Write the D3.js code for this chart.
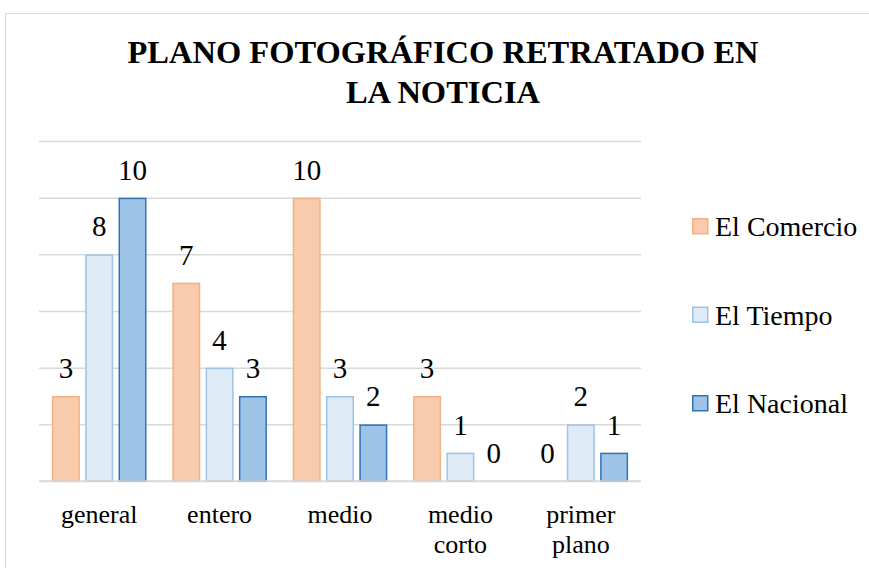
<!DOCTYPE html>
<html><head><meta charset="utf-8">
<script src="https://cdn.jsdelivr.net/npm/d3@7"></script>
<style>html,body{margin:0;padding:0;background:#fff;}svg{display:block;}</style>
</head><body>
<svg id="chart" width="869" height="568"></svg>
<script>
const categories = ["general", "entero", "medio", "medio corto", "primer plano"];
const seriesNames = ["El Comercio", "El Tiempo", "El Nacional"];
const elComercio = [3, 7, 10, 3, 0];
const elTiempo = [8, 4, 3, 1, 2];
const elNacional = [10, 3, 2, 0, 1];
const yTicks = [0, 2, 4, 6, 8, 10, 12];
const fills = ["#f8cbad", "#deebf7", "#9dc3e6"];
const strokes = ["#f4b183", "#9dc3e6", "#2e75b6"];
const titleLines = ["PLANO FOTOGRÁFICO RETRATADO EN", "LA NOTICIA"];

const seriesValues = [elComercio, elTiempo, elNacional];
const FONT = '"Liberation Serif", "Times New Roman", serif';

const svg = d3.select("#chart");

svg.append("rect").attr("x", 5.5).attr("y", 13.5).attr("width", 900).attr("height", 600)
  .attr("fill", "#fff").attr("stroke", "#d9d9d9").attr("stroke-width", 1);

const plot = {left: 39, right: 641, top: 141, bottom: 481};
const y = d3.scaleLinear().domain([0, 12]).range([plot.bottom, plot.top]);
const x0 = d3.scaleBand().domain(categories).range([plot.left, plot.right]).paddingInner(0.214).paddingOuter(0.107);
const x1 = d3.scaleBand().domain(seriesNames).range([0, x0.bandwidth()]).paddingInner(0.16);

const grid = d3.axisLeft(y).tickValues(yTicks).tickSize(-(plot.right - plot.left)).tickFormat("");
const g = svg.append("g").attr("transform", `translate(${plot.left},0)`).call(grid);
g.select(".domain").remove();
g.selectAll(".tick line").attr("stroke", "#d9d9d9").attr("stroke-width", 1.5);

seriesNames.forEach((s, si) => {
  const grp = svg.append("g");
  grp.selectAll("rect").data(categories.map((c, ci) => ({c, v: seriesValues[si][ci]})).filter(d => d.v > 0))
    .join("rect")
    .attr("x", d => x0(d.c) + x1(s) + 0.75)
    .attr("y", d => y(d.v) + 0.75)
    .attr("width", x1.bandwidth() - 1.5)
    .attr("height", d => y(0) - y(d.v) - 0.75)
    .attr("fill", fills[si]).attr("stroke", strokes[si]).attr("stroke-width", 1.5);
  grp.selectAll("text").data(categories.map((c, ci) => ({c, v: seriesValues[si][ci]})))
    .join("text")
    .attr("x", d => x0(d.c) + x1(s) + x1.bandwidth() / 2)
    .attr("y", d => y(d.v) - 18)
    .attr("text-anchor", "middle")
    .attr("font-size", 29).attr("fill", "#000")
    .style("font-family", FONT)
    .text(d => d.v);
});

svg.append("line").attr("x1", plot.left).attr("x2", plot.right).attr("y1", y(0)).attr("y2", y(0))
  .attr("stroke", "#d9d9d9").attr("stroke-width", 1.5);

const xa = d3.axisBottom(x0).tickSize(0).tickPadding(0);
const xg = svg.append("g").attr("transform", `translate(0,${plot.bottom})`).call(xa);
xg.select(".domain").remove();
xg.selectAll(".tick text").each(function(d) {
  const t = d3.select(this);
  t.text(null).attr("y", 0).attr("dy", null).attr("fill", "#000")
    .attr("font-size", 26).style("font-family", FONT);
  d.split(" ").forEach((w, i) => {
    t.append("tspan").attr("x", 0).attr("y", 42 + i * 30).text(w);
  });
});

titleLines.forEach((line, i) => {
  svg.append("text").attr("text-anchor", "middle")
    .attr("x", 443).attr("y", 63 + i * 40)
    .attr("font-size", 32.5).attr("font-weight", "bold").attr("fill", "#000")
    .style("font-family", FONT)
    .text(line);
});

seriesNames.forEach((s, i) => {
  const ly = 236 + i * 88.5;
  svg.append("rect").attr("x", 692.75).attr("y", ly - 17.25).attr("width", 15).attr("height", 15)
    .attr("fill", fills[i]).attr("stroke", strokes[i]).attr("stroke-width", 1.5);
  svg.append("text").attr("x", 715).attr("y", ly).attr("fill", "#000")
    .attr("font-size", 28).style("font-family", FONT).text(s);
});
</script>
</body></html>
